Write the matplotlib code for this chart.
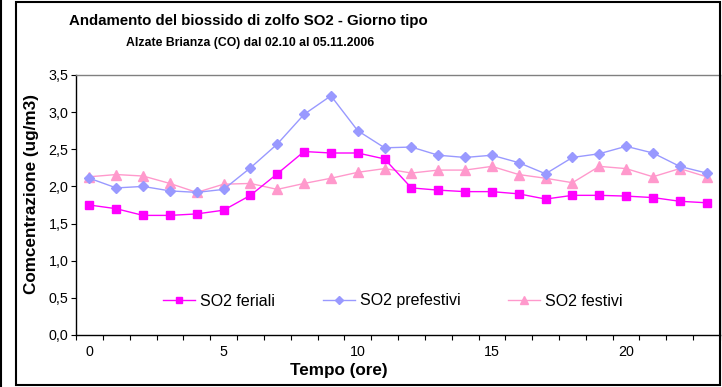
import matplotlib
matplotlib.use("Agg")
import matplotlib.pyplot as plt
from matplotlib.ticker import FuncFormatter, FixedLocator
from matplotlib.lines import Line2D

hours = list(range(24))
feriali = [1.75, 1.70, 1.61, 1.61, 1.63, 1.68, 1.88, 2.17, 2.47, 2.45, 2.45, 2.37,
           1.98, 1.95, 1.93, 1.93, 1.90, 1.83, 1.88, 1.88, 1.87, 1.85, 1.80, 1.78]
prefestivi = [2.11, 1.98, 2.00, 1.94, 1.92, 1.96, 2.25, 2.57, 2.97, 3.22, 2.75, 2.52,
              2.53, 2.42, 2.39, 2.42, 2.32, 2.17, 2.39, 2.44, 2.54, 2.45, 2.27, 2.18]
festivi = [2.13, 2.16, 2.14, 2.04, 1.92, 2.03, 2.04, 1.96, 2.04, 2.11, 2.19, 2.24,
           2.18, 2.22, 2.22, 2.27, 2.16, 2.11, 2.05, 2.27, 2.24, 2.13, 2.24, 2.13]
labels = ["SO2 feriali", "SO2 prefestivi", "SO2 festivi"]
title = "Andamento del biossido di zolfo SO2 - Giorno tipo"
subtitle = "Alzate Brianza (CO) dal 02.10 al 05.11.2006"
xlabel = "Tempo (ore)"
ylabel = "Comcentrazione (ug/m3)"

plt.rcParams['font.family'] = ['Liberation Sans', 'DejaVu Sans']

W, H = 722, 387
fig = plt.figure(figsize=(W / 100, H / 100), dpi=100)
ax = fig.add_axes([76 / W, 1 - 335 / H, (720 - 76) / W, (335 - 75) / H])

ax.plot(hours, feriali, color="#FF00FF", marker="s", markersize=6, lw=1.0,
        label=labels[0], zorder=4)
ax.plot(hours, prefestivi, color="#9999FF", marker="D", markersize=5.5, lw=1.0,
        label=labels[1], zorder=3)
ax.plot(hours, festivi, color="#FF99CC", marker="^", markersize=7.5, lw=1.0,
        label=labels[2], zorder=2)

ax.set_xlim(-0.5, 23.5)
ax.set_ylim(0, 3.5)
ax.set_yticks([0, 0.5, 1, 1.5, 2, 2.5, 3, 3.5])
ax.yaxis.set_major_formatter(FuncFormatter(lambda v, p: f"{v:.1f}".replace(".", ",")))
ax.set_xticks([0, 5, 10, 15, 20])
ax.xaxis.set_minor_locator(FixedLocator([h - 0.5 for h in range(25)]))
ax.tick_params(axis="x", which="major", length=0, pad=7, labelsize=10.3)
ax.tick_params(axis="x", which="minor", length=3.5, direction="out", width=0.8)
ax.tick_params(axis="y", length=3.5, direction="out", width=0.8, labelsize=10.3, pad=2)

for s in ("left", "bottom"):
    ax.spines[s].set_color("black")
    ax.spines[s].set_linewidth(1.0)
for s in ("top", "right"):
    ax.spines[s].set_color("#808080")
    ax.spines[s].set_linewidth(1.0)

fig.text(32 / W, 1 - 194 / H, ylabel, ha="center", va="center", rotation=90,
         fontsize=12.3, fontweight="bold")
fig.text(339 / W, 1 - 371 / H, xlabel, ha="center", va="center", fontsize=12.3,
         fontweight="bold")

fig.text(248 / W, 1 - 21 / H, title, ha="center", va="center", fontsize=10.8,
         fontweight="bold")
fig.text(250 / W, 1 - 43 / H, subtitle, ha="center", va="center", fontsize=8.8,
         fontweight="bold")

leg = ax.legend(loc="center", bbox_to_anchor=(393 / W, 1 - 301 / H),
                bbox_transform=fig.transFigure, ncol=3, frameon=False,
                fontsize=11.5, columnspacing=3.0, handlelength=2.0,
                handletextpad=0.3, markerscale=0.7)

# chart border
fig.add_artist(plt.Rectangle((16 / W, 2 / H), (720 - 16) / W, (386 - 3) / H,
                             transform=fig.transFigure, fill=False,
                             edgecolor="black", lw=1.5))
fig.add_artist(Line2D([1 / W, 1 / W], [0, 1], transform=fig.transFigure,
                      color="black", lw=1.5))

fig.savefig("out.png", dpi=100)
